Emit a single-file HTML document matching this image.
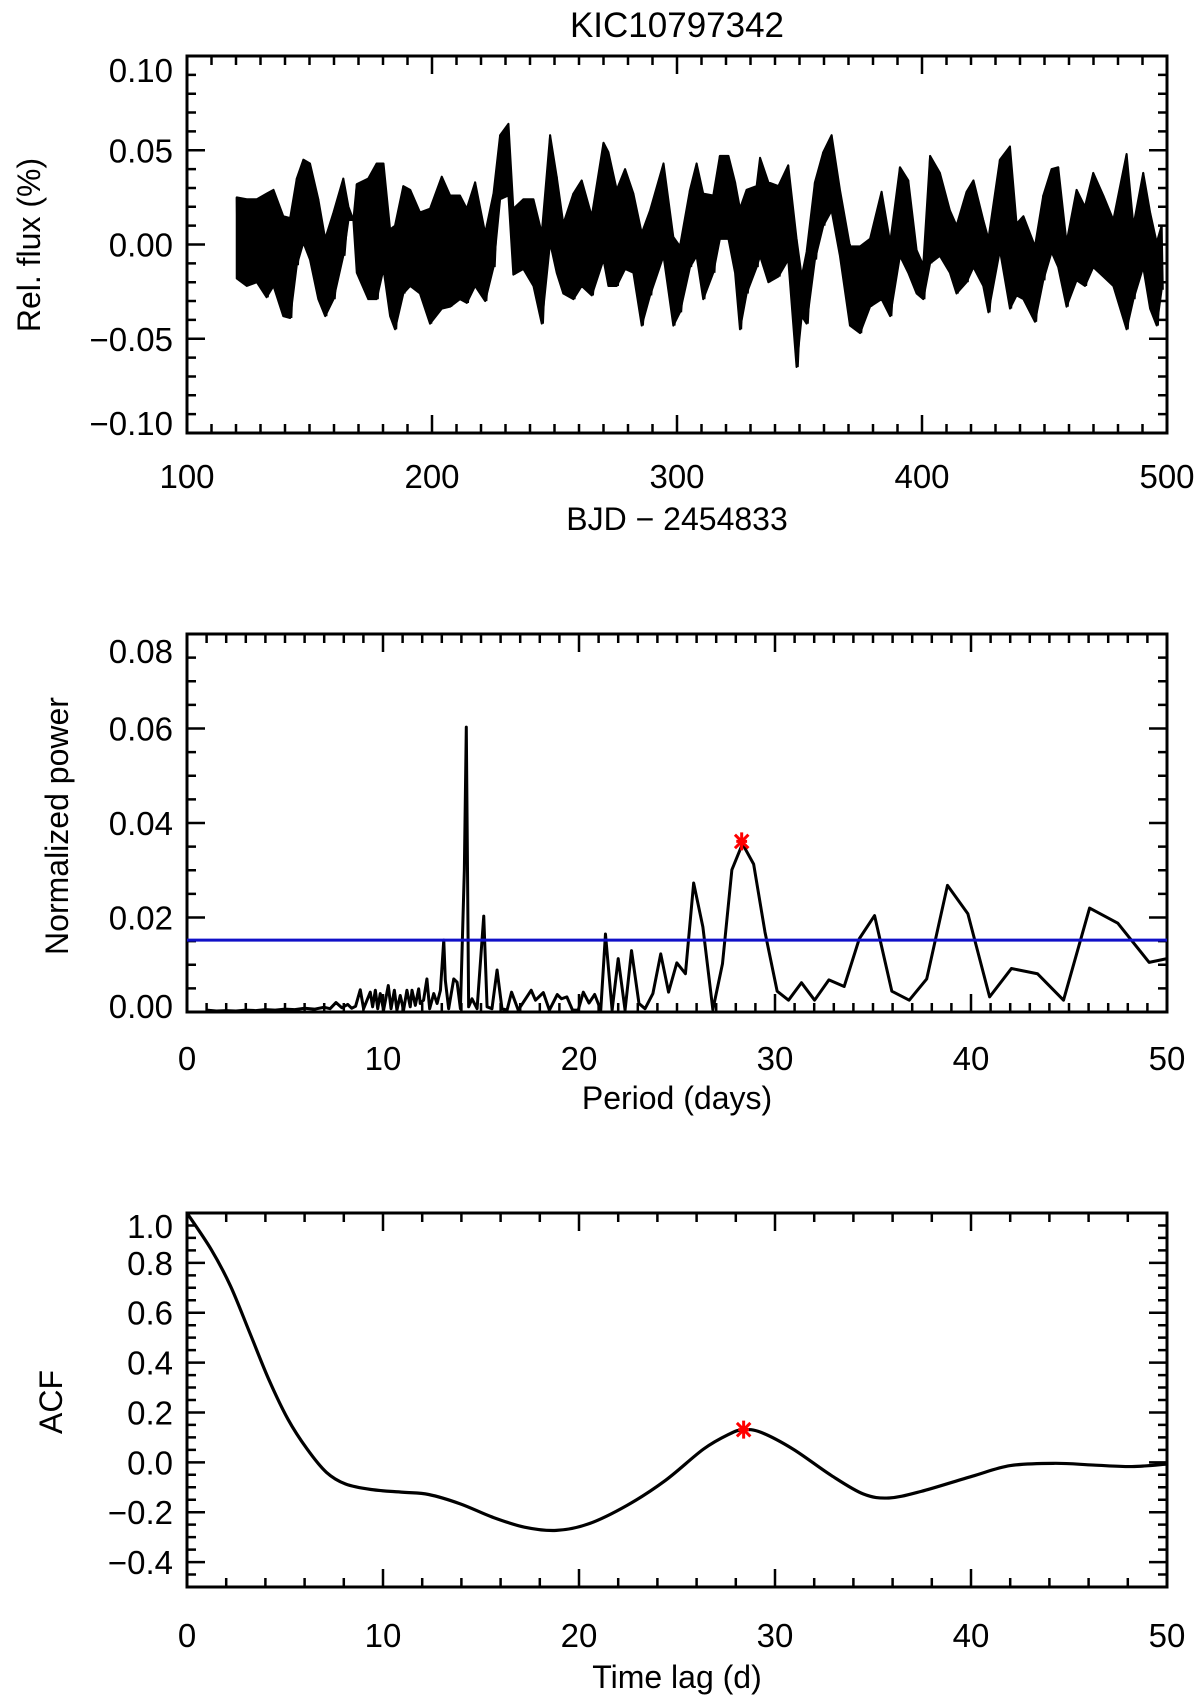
<!DOCTYPE html>
<html><head><meta charset="utf-8"><title>KIC10797342</title>
<style>
html,body{margin:0;padding:0;background:#fff;}
svg{display:block;font-family:"Liberation Sans",sans-serif;}
</style></head>
<body>
<svg id="fig" width="1200" height="1706" viewBox="0 0 1200 1706" xmlns="http://www.w3.org/2000/svg">
<rect x="0" y="0" width="1200" height="1706" fill="#fff"/>
<text x="677" y="37" font-size="35" text-anchor="middle" fill="#000">KIC10797342</text>
<text x="677" y="530" font-size="32" text-anchor="middle" fill="#000">BJD − 2454833</text>
<text transform="translate(40,245) rotate(-90)" font-size="32" text-anchor="middle" fill="#000">Rel. flux (%)</text>
<text x="677" y="1109" font-size="32" text-anchor="middle" fill="#000">Period (days)</text>
<text transform="translate(68,826) rotate(-90)" font-size="32" text-anchor="middle" fill="#000">Normalized power</text>
<text x="677" y="1688" font-size="32" text-anchor="middle" fill="#000">Time lag (d)</text>
<text transform="translate(62,1402) rotate(-90)" font-size="32" text-anchor="middle" fill="#000">ACF</text>
<g id="p1"></g>
<g id="p2"></g>
<g id="p3"></g>
</svg>
<script>
// ---------- Light curve data ----------
const lcDays = [120.3,124.4,128.5,132.5,135.3,139.3,142.1,144.8,147.5,150.2,153.6,156.4,159.8,163.8,165.9,167.9,169.3,174.0,177.4,180.2,182.9,184.9,188.3,191.1,195.1,199.2,204.0,207.4,211.4,214.2,217.6,221.7,225.1,227.8,231.2,233.2,237.3,241.4,244.8,248.2,250.9,253.6,257.7,261.1,265.2,270.0,272.0,275.4,278.8,282.2,285.6,289.0,294.5,298.5,301.2,305.3,308.0,310.7,314.8,317.5,321.0,323.7,325.7,328.4,332.5,333.9,337.3,341.4,345.4,348.8,350.9,352.9,356.3,359.7,363.1,366.5,370.6,374.7,378.8,383.5,387.0,391.0,394.4,397.8,400.5,403.3,407.3,411.4,414.1,418.2,421.0,425.0,427.1,431.8,435.9,438.6,441.4,446.1,449.5,452.9,455.6,459.0,463.1,466.5,469.9,474.0,478.1,483.5,486.3,490.3,493.1,495.8,497.8];
const lcHigh = [0.025,0.024,0.024,0.027,0.029,0.015,0.014,0.035,0.045,0.043,0.024,0.003,0.017,0.035,0.020,0.013,0.032,0.035,0.043,0.043,0.008,0.010,0.031,0.029,0.017,0.019,0.036,0.026,0.026,0.019,0.033,0.006,0.027,0.058,0.064,0.019,0.024,0.024,0.006,0.058,0.036,0.011,0.027,0.034,0.015,0.054,0.049,0.029,0.040,0.027,0.006,0.018,0.043,0.004,-0.001,0.029,0.043,0.027,0.026,0.047,0.047,0.033,0.019,0.029,0.031,0.046,0.033,0.031,0.042,0.003,-0.017,-0.004,0.033,0.049,0.058,0.029,-0.001,-0.001,0.003,0.028,0.001,0.041,0.034,-0.003,-0.011,0.047,0.038,0.018,0.010,0.028,0.034,0.013,0.003,0.045,0.052,0.011,0.015,-0.001,0.026,0.040,0.041,0.001,0.029,0.020,0.038,0.026,0.013,0.048,0.010,0.038,0.017,0.001,0.010];
const lcLow = [-0.018,-0.022,-0.020,-0.028,-0.022,-0.038,-0.039,-0.011,0.001,-0.008,-0.029,-0.038,-0.029,-0.006,0.013,0.013,-0.015,-0.029,-0.029,-0.013,-0.038,-0.045,-0.026,-0.022,-0.026,-0.042,-0.034,-0.033,-0.029,-0.031,-0.022,-0.030,-0.012,0.024,0.026,-0.016,-0.013,-0.022,-0.042,0.001,-0.015,-0.026,-0.029,-0.022,-0.027,-0.008,-0.022,-0.022,-0.013,-0.015,-0.043,-0.027,-0.006,-0.043,-0.036,-0.012,-0.006,-0.029,-0.015,0.003,0.003,-0.015,-0.045,-0.026,-0.012,-0.006,-0.020,-0.017,-0.008,-0.065,-0.038,-0.042,-0.008,0.010,0.018,-0.006,-0.043,-0.047,-0.033,-0.029,-0.038,-0.006,-0.015,-0.026,-0.029,-0.010,-0.006,-0.015,-0.026,-0.020,-0.012,-0.022,-0.036,-0.003,-0.034,-0.027,-0.029,-0.041,-0.019,-0.004,-0.012,-0.033,-0.019,-0.022,-0.012,-0.017,-0.022,-0.045,-0.029,-0.012,-0.034,-0.043,-0.024];
const lcXTicks = [100,200,300,400,500];
const lcYTicks = [0.10,0.05,0.00,-0.05,-0.10];
const lcYLabels = ["0.10","0.05","0.00","−0.05","−0.10"];

// ---------- Periodogram data ----------
const pgPeriods = [1.0,1.5,2.0,2.5,3.0,3.5,4.0,4.5,5.0,5.5,6.0,6.5,7.0,7.3,7.6,7.9,8.2,8.4,8.6,
 8.84,9.01,9.35,9.47,9.61,9.73,9.86,10.03,10.27,10.41,10.58,10.71,10.88,11.05,11.22,11.39,11.48,11.65,11.82,11.90,12.07,12.24,12.38,12.59,12.76,12.93,13.10,13.18,13.35,13.61,13.78,13.95,14.15,14.25,14.37,14.54,14.80,15.14,15.31,15.56,15.82,16.07,16.33,
 16.56,16.9,17.56,17.78,18.18,18.49,18.89,19.11,19.38,19.67,19.96,20.22,20.51,20.8,21.11,21.35,21.69,22.0,22.35,22.68,23.06,23.37,23.77,24.17,24.57,24.99,25.43,25.85,26.32,26.83,27.32,27.8,28.34,28.91,29.49,30.11,30.69,31.35,32.02,32.75,33.53,34.3,35.08,35.96,36.85,37.74,38.8,39.84,40.95,42.06,43.39,44.72,46.05,47.49,49.09,50.0];
const pgPower = [0.0004,0.0002,0.0003,0.0002,0.0004,0.0003,0.0005,0.0004,0.0006,0.0005,0.0008,0.0006,0.0010,0.0007,0.0020,0.0009,0.0016,0.0008,0.0012,
 0.0047,0.0007,0.0042,0.0011,0.0046,0.0007,0.0039,0.0004,0.0056,0.0007,0.0046,0.0004,0.0035,0.0004,0.0046,0.0011,0.0046,0.0014,0.0049,0.0018,0.0025,0.0070,0.0007,0.0039,0.0018,0.0046,0.0152,0.0067,0.0007,0.0070,0.0063,0.0007,0.0300,0.0603,0.0011,0.0028,0.0007,0.0203,0.0011,0.0007,0.0089,0.0007,0.0004,
 0.0042,0.0004,0.0046,0.0025,0.0041,0.0004,0.0037,0.0028,0.0032,0.0004,0.0004,0.0042,0.0019,0.0037,0.0004,0.0165,0.0004,0.0113,0.0004,0.0130,0.0018,0.0007,0.0039,0.0123,0.0042,0.0104,0.0081,0.0273,0.0180,0.0005,0.0102,0.0301,0.0356,0.0313,0.0169,0.0044,0.0025,0.0062,0.0025,0.0068,0.0054,0.0155,0.0204,0.0044,0.0025,0.0070,0.0268,0.0208,0.0032,0.0092,0.0081,0.0025,0.0220,0.0188,0.0105,0.0113];
const pgThreshold = [0.0152];
const pgPeak = [28.3, 0.0361];
const pgXTicks = [0,10,20,30,40,50];
const pgYTicks = [0.08,0.06,0.04,0.02,0.00];
const pgYLabels = ["0.08","0.06","0.04","0.02","0.00"];

// ---------- ACF data ----------
const acfLags = [0,1.24,2.22,3.2,4.17,5.15,6.13,7.11,8.09,9.39,11.02,12.33,13.96,15.59,17.22,18.85,20.48,22.44,24.4,26.35,27.66,28.38,29.29,30.92,32.88,34.51,35.81,37.44,40.05,42.01,44.29,46.25,48.21,50];
const acfValues = [1.0,0.853,0.707,0.52,0.333,0.173,0.053,-0.04,-0.087,-0.109,-0.12,-0.129,-0.167,-0.22,-0.26,-0.273,-0.247,-0.173,-0.073,0.053,0.113,0.131,0.12,0.053,-0.053,-0.127,-0.143,-0.117,-0.056,-0.013,-0.004,-0.011,-0.017,-0.007];
const acfPeak = [28.4, 0.131];
const acfXTicks = [0,10,20,30,40,50];
const acfYTicks = [1.0,0.8,0.6,0.4,0.2,0.0,-0.2,-0.4];
const acfYLabels = ["1.0","0.8","0.6","0.4","0.2","0.0","−0.2","−0.4"];

const NS = "http://www.w3.org/2000/svg";
function mk(tag, attrs, parent){const e=document.createElementNS(NS,tag);for(const k in attrs)e.setAttribute(k,attrs[k]);parent.appendChild(e);return e;}
function lin(d0,d1,r0,r1){return v=>r0+(v-d0)*(r1-r0)/(d1-d0);}

function drawAxes(g, o){
  const sx=lin(o.xmin,o.xmax,o.L,o.R), sy=lin(o.ymin,o.ymax,o.B,o.T);
  const fr=mk('rect',{x:o.L,y:o.T,width:o.R-o.L,height:o.B-o.T,fill:'none',stroke:'#000','stroke-width':3},g);
  
  
  let d='';
  const nx=Math.round((o.xmax-o.xmin)/o.xminor);
  for(let i=0;i<=nx;i++){
    const v=o.xmin+i*o.xminor, x=sx(v);
    const maj=Math.abs(v/o.xmajor-Math.round(v/o.xmajor))<1e-6;
    const len=maj?18:9;
    d+=`M${x},${o.B}V${o.B-len}M${x},${o.T}V${o.T+len}`;
  }
  const ny=Math.round((o.ymax-o.ymin)/o.yminor);
  for(let i=0;i<=ny;i++){
    const v=o.ymin+i*o.yminor, y=sy(v);
    const maj=Math.abs(v/o.ymajor-Math.round(v/o.ymajor))<1e-6;
    const len=maj?18:9;
    d+=`M${o.L},${y}H${o.L+len}M${o.R},${y}H${o.R-len}`;
  }
  const tk=mk('path',{d:d,stroke:'#000','stroke-width':2.5,fill:'none'},g);
  
  
  o.xticks.forEach(v=>{
    const t=mk('text',{x:sx(v),y:o.xlabelY,'font-size':33,'text-anchor':'middle',fill:'#000'},g);
    t.textContent=String(v);
    
    
  });
  o.yticks.forEach((v,i)=>{
    let y=sy(v)+12;
    if(Math.abs(v-o.ymax)<1e-9) y+=o.topShift;
    if(Math.abs(v-o.ymin)<1e-9) y+=o.botShift;
    const t=mk('text',{x:173,y:y,'font-size':33,'text-anchor':'end',fill:'#000'},g);
    t.textContent=o.ylabels[i];
    
    
  });
  return {sx,sy};
}
function star(g,x,y,name){
  const s=9;
  const p=mk('path',{d:`M${x},${y-s}V${y+s}M${x-s*0.75},${y-s*0.75}L${x+s*0.75},${y+s*0.75}M${x-s*0.75},${y+s*0.75}L${x+s*0.75},${y-s*0.75}M${x-s*0.6},${y}H${x+s*0.6}`,stroke:'#ff0000','stroke-width':3,fill:'none'},g);
  
  
}

// Panel 1: light curve
(function(){
  const g=document.getElementById('p1');
  const {sx,sy}=drawAxes(g,{L:187,R:1167,T:56,B:433,xmin:100,xmax:500,ymin:-0.1,ymax:0.1,xmajor:100,xminor:10,ymajor:0.05,yminor:0.01,xticks:lcXTicks,yticks:lcYTicks,ylabels:lcYLabels,xlabelY:488,topShift:14,botShift:-10});
  let up='',dn='',zz='';
  lcDays.forEach((t,i)=>{up+=(i?'L':'M')+sx(t)+','+sy(lcHigh[i]);});
  for(let i=lcDays.length-1;i>=0;i--){dn+='L'+sx(lcDays[i])+','+sy(lcLow[i]);}
  const band=mk('path',{d:up+dn+'Z',fill:'#000',stroke:'#000','stroke-width':2,'stroke-linejoin':'round'},g);
  
  
  lcDays.forEach((t,i)=>{
    const x=sx(t);
    zz+=(i?'L':'M')+x+','+sy(lcHigh[i])+'L'+(x+1.2)+','+sy(lcLow[i]);
  });
  const line=mk('path',{d:zz,fill:'none',stroke:'#000','stroke-width':2},g);
  
  
})();

// Panel 2: periodogram
(function(){
  const g=document.getElementById('p2');
  const {sx,sy}=drawAxes(g,{L:187,R:1167,T:634,B:1012,xmin:0,xmax:50,ymin:0,ymax:0.08,xmajor:10,xminor:1,ymajor:0.02,yminor:0.005,xticks:pgXTicks,yticks:pgYTicks,ylabels:pgYLabels,xlabelY:1070,topShift:17,botShift:-6});
  let d='';
  pgPeriods.forEach((p,i)=>{d+=(i?'L':'M')+sx(p)+','+sy(pgPower[i]);});
  const line=mk('path',{d:d,fill:'none',stroke:'#000','stroke-width':3,'stroke-linejoin':'round'},g);
  
  
  const th=mk('line',{x1:sx(0),x2:sx(50),y1:sy(pgThreshold[0]),y2:sy(pgThreshold[0]),stroke:'#1010c8','stroke-width':3},g);
  
  
  star(g,sx(pgPeak[0]),sy(pgPeak[1]),'periodogram-peak-marker');
})();

// Panel 3: ACF
(function(){
  const g=document.getElementById('p3');
  const {sx,sy}=drawAxes(g,{L:187,R:1167,T:1213,B:1587,xmin:0,xmax:50,ymin:-0.5,ymax:1.0,xmajor:10,xminor:2,ymajor:0.2,yminor:0.05,xticks:acfXTicks,yticks:acfYTicks,ylabels:acfYLabels,xlabelY:1647,topShift:13,botShift:0});
  const pts=acfLags.map((t,i)=>[sx(t),sy(acfValues[i])]);
  let d='M'+pts[0][0]+','+pts[0][1];
  for(let i=0;i<pts.length-1;i++){
    const p0=pts[Math.max(0,i-1)],p1=pts[i],p2=pts[i+1],p3=pts[Math.min(pts.length-1,i+2)];
    const c1=[p1[0]+(p2[0]-p0[0])/6,p1[1]+(p2[1]-p0[1])/6];
    const c2=[p2[0]-(p3[0]-p1[0])/6,p2[1]-(p3[1]-p1[1])/6];
    d+=`C${c1[0]},${c1[1]} ${c2[0]},${c2[1]} ${p2[0]},${p2[1]}`;
  }
  const line=mk('path',{d:d,fill:'none',stroke:'#000','stroke-width':3.2},g);
  
  
  star(g,sx(acfPeak[0]),sy(acfPeak[1]),'acf-peak-marker');
})();
</script>
</body></html>
